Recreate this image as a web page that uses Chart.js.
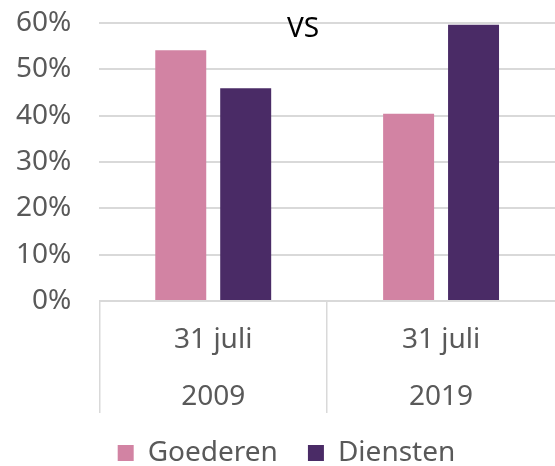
<!DOCTYPE html>
<html>
<head>
<meta charset="utf-8">
<script src="https://cdn.jsdelivr.net/npm/chart.js@4"></script>
<style>
  html, body { margin: 0; padding: 0; background: #fff; }
  #wrap { width: 555px; height: 466px; }
</style>
</head>
<body>
<div id="wrap"><canvas id="vsChart"></canvas></div>
<script>
// data
const dateLine = "31 juli";
const years = ["2009", "2019"];
const goederen = [54.1, 40.4];
const diensten = [45.9, 59.6];
const yTicks = [0, 10, 20, 30, 40, 50, 60];

const font = "'Noto Sans', sans-serif";
const grey = "#595959";
const lineGrey = "#d9d9d9";

// "VS" tekst boven de grafiek
const vsLabel = {
  id: "vsLabel",
  afterDraw(chart) {
    const c = chart.ctx;
    c.save();
    c.font = "28px " + font;
    c.fillStyle = "#000";
    c.textAlign = "center";
    c.textBaseline = "middle";
    c.fillText("VS", 303, 29);
    c.restore();
  },
};

// laatste scheidingslijn (rechterrand) niet tekenen
const sepColor = (c) => (c.type === "tick" ? lineGrey : "transparent");

const ctx = document.getElementById("vsChart").getContext("2d");
const chart = new Chart(ctx, {
  type: "bar",
  data: {
    labels: years.map((y) => [dateLine, y]),
    datasets: [
      {
        label: "Goederen",
        data: goederen,
        backgroundColor: "#d283a3",
        categoryPercentage: 0.57,
        barPercentage: 0.785,
      },
      {
        label: "Diensten",
        data: diensten,
        backgroundColor: "#4a2b66",
        categoryPercentage: 0.57,
        barPercentage: 0.785,
      },
    ],
  },
  options: {
    responsive: true,
    maintainAspectRatio: false,
    animation: false,
    layout: { padding: { top: 23, left: 16, right: -2, bottom: -11 } },
    plugins: {
      legend: {
        position: "bottom",
        labels: {
          boxWidth: 16,
          boxHeight: 16,
          padding: 30,
          color: grey,
          font: { family: font, size: 28 },
        },
      },
      tooltip: { enabled: false },
    },
    scales: {
      x: {
        border: { display: false },
        grid: {
          offset: true,
          drawOnChartArea: false,
          tickLength: 112,
          color: sepColor,
          tickColor: sepColor,
          lineWidth: 1.5,
        },
        ticks: {
          padding: -101.5,
          color: grey,
          font: { family: font, size: 28, lineHeight: "57px" },
        },
        // lege titel: alleen voor ruimte onder de labels
        title: {
          display: true,
          text: "",
          font: { size: 10, lineHeight: 1 },
          padding: { top: 75, bottom: 0 },
        },
      },
      y: {
        min: 0,
        max: 60,
        border: { display: false },
        grid: {
          drawTicks: true,
          tickLength: 28,
          tickColor: "transparent",
          color: lineGrey,
          lineWidth: 2,
        },
        afterBuildTicks: (axis) => {
          axis.ticks = yTicks.map((v) => ({ value: v }));
        },
        ticks: {
          padding: 0,
          color: grey,
          font: { family: font, size: 28 },
          callback: (v) => v + "%",
        },
      },
    },
  },
  plugins: [vsLabel],
});
</script>
</body>
</html>
